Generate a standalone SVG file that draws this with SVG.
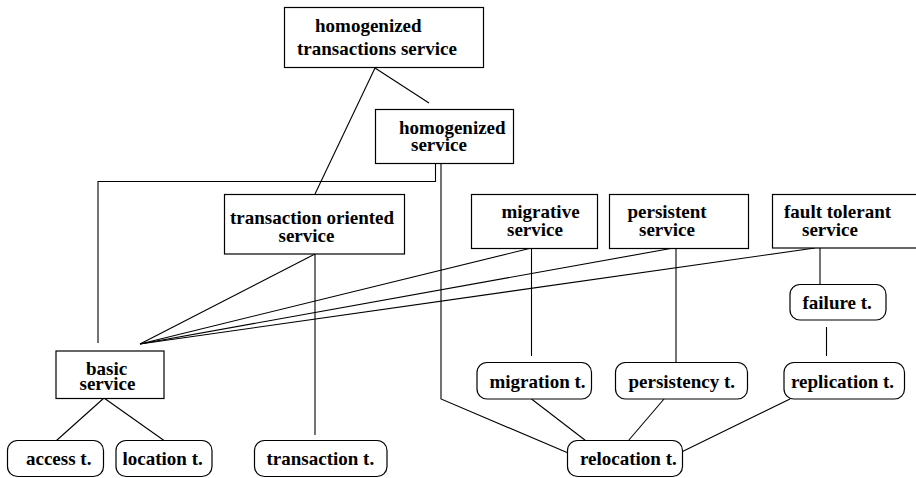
<svg xmlns="http://www.w3.org/2000/svg" width="916" height="478" viewBox="0 0 916 478">
  <style>
    .box { fill: #ffffff; stroke: #000000; stroke-width: 1.2; }
    .rbox { fill: #ffffff; stroke: #000000; stroke-width: 1.2; }
    .lbl { font-family: "Liberation Serif", "Times New Roman", serif; font-weight: bold; font-size: 19px; fill: #000000; }
    .edge { fill: none; stroke: #000000; stroke-width: 1.1; }
  </style>
  <rect width="916" height="478" fill="#ffffff"/>

  <!-- connectors -->
  <g id="connectors" class="edge">
    <line x1="375" y1="68" x2="315" y2="194"/>
    <line x1="375" y1="68" x2="429" y2="103"/>
    <polyline points="435.5,164 435.5,181.5 98,181.5 98,343"/>
    <polyline points="441,164 441,399 567,452.5"/>
    <line x1="315" y1="254" x2="140" y2="344"/>
    <line x1="315" y1="254" x2="315" y2="435"/>
    <line x1="140" y1="344" x2="531.5" y2="248"/>
    <line x1="140" y1="344" x2="673.5" y2="248"/>
    <line x1="140" y1="344" x2="815" y2="248"/>
    <line x1="104" y1="398" x2="56.5" y2="440.5"/>
    <line x1="104" y1="398" x2="164" y2="440.5"/>
    <line x1="531.5" y1="248" x2="531.5" y2="356"/>
    <line x1="676" y1="248" x2="676" y2="362.5"/>
    <line x1="820" y1="248" x2="820" y2="284"/>
    <line x1="826.5" y1="327" x2="826.5" y2="356"/>
    <line x1="531.5" y1="399" x2="585.5" y2="440.5"/>
    <line x1="664" y1="399" x2="628.5" y2="440.5"/>
    <line x1="790" y1="399" x2="682.5" y2="451.5"/>
  </g>

  <g id="homogenized-transactions-service">
    <rect class="box" x="284.5" y="7.5" width="199" height="60"/>
    <text class="lbl" x="315" y="32">homogenized</text>
    <text class="lbl" x="297" y="55">transactions service</text>
  </g>

  <g id="homogenized-service">
    <rect class="box" x="375.5" y="109.5" width="138" height="54"/>
    <text class="lbl" x="399" y="133.5">homogenized</text>
    <text class="lbl" x="411" y="151">service</text>
  </g>

  <g id="transaction-oriented-service">
    <rect class="box" x="224.5" y="194.5" width="180" height="59.5"/>
    <text class="lbl" x="230" y="223.5">transaction oriented</text>
    <text class="lbl" x="278.5" y="241.5">service</text>
  </g>

  <g id="migrative-service">
    <rect class="box" x="471.5" y="194.5" width="126" height="54"/>
    <text class="lbl" x="501.5" y="217.5">migrative</text>
    <text class="lbl" x="507" y="235.5">service</text>
  </g>

  <g id="persistent-service">
    <rect class="box" x="609.5" y="194.5" width="139" height="54"/>
    <text class="lbl" x="627.5" y="217.5">persistent</text>
    <text class="lbl" x="639" y="235.5">service</text>
  </g>

  <g id="fault-tolerant-service">
    <rect class="box" x="772.5" y="194.5" width="150" height="53.5"/>
    <text class="lbl" x="784" y="217.5">fault tolerant</text>
    <text class="lbl" x="802" y="235.5">service</text>
  </g>

  <g id="failure-t">
    <rect class="rbox" x="790" y="284.5" width="96" height="35.5" rx="10" ry="10"/>
    <text class="lbl" x="802.5" y="309">failure t.</text>
  </g>

  <g id="basic-service">
    <rect class="box" x="56" y="351" width="108" height="47.5"/>
    <text class="lbl" x="86" y="375">basic</text>
    <text class="lbl" x="79.5" y="390">service</text>
  </g>

  <g id="migration-t">
    <rect class="rbox" x="477" y="362.5" width="114.5" height="36.5" rx="10" ry="10"/>
    <text class="lbl" x="489.5" y="387.5">migration t.</text>
  </g>

  <g id="persistency-t">
    <rect class="rbox" x="615.5" y="362.5" width="132" height="36.5" rx="10" ry="10"/>
    <text class="lbl" x="628.5" y="387.5">persistency t.</text>
  </g>

  <g id="replication-t">
    <rect class="rbox" x="784" y="362.5" width="120.5" height="36.5" rx="10" ry="10"/>
    <text class="lbl" x="791" y="387.5">replication t.</text>
  </g>

  <g id="access-t">
    <rect class="rbox" x="7.5" y="440.5" width="96" height="36" rx="10" ry="10"/>
    <text class="lbl" x="26" y="465">access t.</text>
  </g>

  <g id="location-t">
    <rect class="rbox" x="116" y="440.5" width="96" height="36" rx="10" ry="10"/>
    <text class="lbl" x="122.5" y="465">location t.</text>
  </g>

  <g id="transaction-t">
    <rect class="rbox" x="254.5" y="440.5" width="132.5" height="36" rx="10" ry="10"/>
    <text class="lbl" x="266.5" y="465">transaction t.</text>
  </g>

  <g id="relocation-t">
    <rect class="rbox" x="567.5" y="440.5" width="115" height="36" rx="10" ry="10"/>
    <text class="lbl" x="580" y="465">relocation t.</text>
  </g>
</svg>
